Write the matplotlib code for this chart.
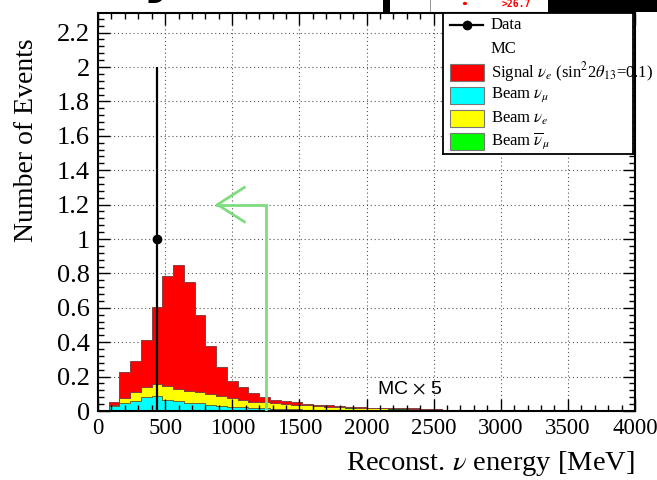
import numpy as np
import matplotlib
matplotlib.use("Agg")
import matplotlib.pyplot as plt
from matplotlib.patches import Rectangle, Circle
from matplotlib.ticker import MultipleLocator

plt.rcParams['font.family'] = ['Liberation Serif', 'DejaVu Serif']
plt.rcParams['mathtext.fontset'] = 'stix'

# 80 MeV bins, stacked MC (x5): cumulative tops of each layer
bin_edges = np.arange(0, 3441, 80)
numu_top = [0.0, 0.030, 0.048, 0.060, 0.083, 0.085, 0.062, 0.060, 0.047, 0.045,
            0.032, 0.031, 0.025, 0.021, 0.016, 0.015, 0.014, 0.012, 0.010, 0.008,
            0.007, 0.006, 0.005, 0.005, 0.004, 0.004, 0.003, 0.003, 0.003, 0.002,
            0.002, 0.002, 0.001, 0.001, 0.001, 0.001, 0.001, 0.001, 0.001, 0.001,
            0.001, 0.001, 0.0]
nue_top = [0.0, 0.034, 0.077, 0.112, 0.141, 0.155, 0.145, 0.130, 0.118, 0.108,
           0.097, 0.085, 0.074, 0.064, 0.055, 0.050, 0.045, 0.040, 0.036, 0.032,
           0.028, 0.025, 0.022, 0.020, 0.018, 0.016, 0.015, 0.014, 0.013, 0.012,
           0.011, 0.010, 0.007, 0.006, 0.006, 0.005, 0.005, 0.005, 0.004, 0.004,
           0.004, 0.003, 0.003]
numubar_top = [0.0, 0.034, 0.077, 0.112, 0.141, 0.155, 0.145, 0.130, 0.118, 0.108,
               0.097, 0.085, 0.074, 0.064, 0.055, 0.050, 0.045, 0.040, 0.036, 0.032,
               0.029, 0.026, 0.023, 0.021, 0.019, 0.017, 0.016, 0.015, 0.015, 0.014,
               0.013, 0.012, 0.007, 0.006, 0.006, 0.005, 0.005, 0.005, 0.004, 0.004,
               0.004, 0.003, 0.003]
signal_top = [0.0, 0.050, 0.224, 0.290, 0.415, 0.604, 0.783, 0.851, 0.749, 0.556,
              0.378, 0.257, 0.175, 0.141, 0.102, 0.080, 0.065, 0.058, 0.050, 0.042,
              0.036, 0.032, 0.028, 0.025, 0.022, 0.020, 0.018, 0.017, 0.016, 0.015,
              0.013, 0.012, 0.008, 0.007, 0.007, 0.006, 0.006, 0.0055, 0.005, 0.005,
              0.0045, 0.004, 0.0035]

# observed events
data_x = [440]
data_y = [1.0]
data_err = [1.0]

cut_energy = 1250
arrow_level = 1.2
arrow_tip = 890

W, H = 657, 480
fig = plt.figure(figsize=(W / 100, H / 100), dpi=100)


def fpos(x, y):
    return x / W, 1 - y / H


ax = fig.add_axes([98 / W, 69 / H, 537 / W, 398 / H])
ax.set_xlim(0, 4000)
ax.set_ylim(0, 2.314)

# dotted grid under the histograms
for gx in np.arange(500, 4000, 500):
    ax.axvline(gx, color='#555555', lw=0.8, ls=(0, (1, 2.5)), zorder=0.5)
for gy in np.arange(0.2, 2.3, 0.2):
    ax.axhline(gy, color='#555555', lw=0.8, ls=(0, (1, 2.5)), zorder=0.5)

ax.stairs(numu_top, bin_edges, baseline=0, fill=True, facecolor='#00ffff',
          edgecolor='#2a6a6a', lw=0.7, zorder=1)
ax.stairs(nue_top, bin_edges, baseline=numu_top, fill=True, facecolor='#ffff00',
          edgecolor='#6a6a30', lw=0.7, zorder=1)
ax.stairs(numubar_top, bin_edges, baseline=nue_top, fill=True, facecolor='#00ff00',
          edgecolor='#2f5f2f', lw=0.7, zorder=1)
ax.stairs(signal_top, bin_edges, baseline=numubar_top, fill=True, facecolor='#ff0000',
          edgecolor='#8a4040', lw=0.7, zorder=1)

ax.errorbar(data_x, data_y, yerr=data_err, fmt='o', color='black', ms=6,
            elinewidth=1.6, capsize=0, zorder=4)

# selection cut arrow
green = '#7fdc7f'
ax.plot([cut_energy, cut_energy, arrow_tip], [0, arrow_level, arrow_level],
        color=green, lw=2, zorder=3, solid_joinstyle='miter')
ax.plot([arrow_tip + 200, arrow_tip, arrow_tip + 200],
        [arrow_level + 0.1, arrow_level, arrow_level - 0.1],
        color=green, lw=2, zorder=3)

ax.text(2080, 0.13, r'MC $\times$ 5', family='Liberation Sans', fontsize=14,
        ha='left', va='center', zorder=3)

ax.set_axisbelow(False)
ax.xaxis.set_major_locator(MultipleLocator(500))
ax.xaxis.set_minor_locator(MultipleLocator(100))
ax.yaxis.set_major_locator(MultipleLocator(0.2))
ax.yaxis.set_minor_locator(MultipleLocator(0.04))
ax.yaxis.set_major_formatter(plt.FuncFormatter(lambda v, p: '%g' % round(v, 1)))
ax.tick_params(which='both', direction='in', top=True, right=True)
ax.tick_params(which='major', length=8.5, width=1)
ax.tick_params(which='minor', length=4.3, width=1)
ax.tick_params(axis='x', pad=5, labelsize=16.5)
ax.tick_params(axis='y', pad=6, labelsize=19)
for s in ax.spines.values():
    s.set_linewidth(1.5)

ax.set_xlabel(r'Reconst. $\nu$ energy [MeV]', fontsize=20.5, loc='right')
ax.xaxis.set_label_coords(1.0, -0.095)
ax.set_ylabel('Number of Events', fontsize=20)
ax.yaxis.set_label_coords(-0.11, 0.68)

# legend panel
lg = fig.add_axes([443 / W, (H - 154) / H, 190 / W, 141 / H])
lg.set_xlim(0, 190)
lg.set_ylim(141, 0)
lg.set_xticks([])
lg.set_yticks([])
for s in lg.spines.values():
    s.set_linewidth(1.3)

lg.plot([7, 40], [12, 12], color='black', lw=1.6)
lg.plot([24], [12], 'o', color='black', ms=6)
legend_rows = [
    ('Data', 12, None),
    ('MC', 36, None),
    (r'Signal $\nu_e$ (sin$^2$2$\theta_{13}$=0.1)', 59, '#ff0000'),
    (r'Beam $\nu_\mu$', 82, '#00ffff'),
    (r'Beam $\nu_e$', 105, '#ffff00'),
    (r'Beam $\overline{\nu}_\mu$', 128, '#00ff00'),
]
for label, ry, col in legend_rows:
    if col is not None:
        lg.add_patch(Rectangle((7, ry - 8.5), 34, 17, facecolor=col,
                               edgecolor='#777777', lw=0.8))
    lg.text(48, ry, label, fontsize=12, va='center', ha='left')

# strip of neighbouring slide content along the top edge
def box(x0, x1, y0, y1, **kw):
    fx0, fy1 = fpos(x0, y1)
    fx1, fy0 = fpos(x1, y0)
    fig.patches.append(Rectangle((fx0, fy1), fx1 - fx0, fy0 - fy1,
                                 transform=fig.transFigure, **kw))

box(383, 390, 0, 12, facecolor='black', edgecolor='none')
box(548, 657, 0, 12, facecolor='black', edgecolor='none')
box(429.5, 430.5, 0, 12, facecolor='#999999', edgecolor='none')
fig.patches.append(Circle(fpos(465, 3.5), 2.2 / W, transform=fig.transFigure,
                          facecolor='red', edgecolor='none'))
fig.text(*fpos(502, 4), '>26.7', color='red', fontsize=7, family='DejaVu Sans Mono',
         fontweight='bold', ha='left', va='center')
fig.text(*fpos(142, -9), 'y', fontsize=40, fontweight='bold', family='DejaVu Sans',
         ha='left', va='baseline')

fig.savefig('out.png', dpi=100)
